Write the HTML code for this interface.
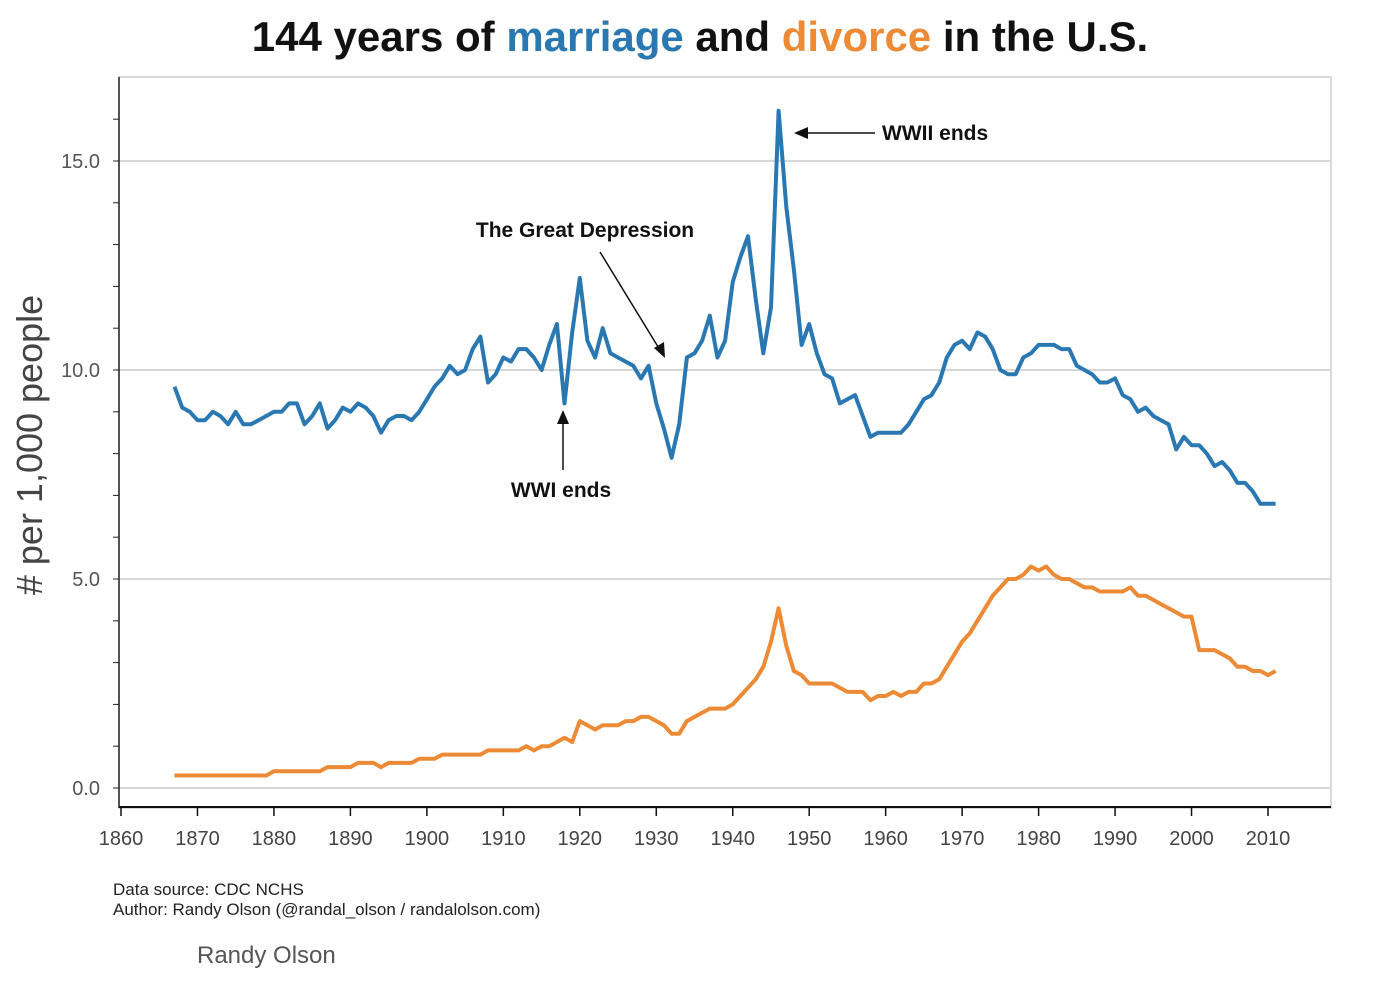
<!DOCTYPE html>
<html><head><meta charset="utf-8"><style>
html,body{margin:0;padding:0;background:#fff;}
body{width:1400px;height:980px;overflow:hidden;font-family:"Liberation Sans",Arial,sans-serif;}
</style></head><body>
<svg id="chart" width="1400" height="980" xmlns="http://www.w3.org/2000/svg" font-family="Liberation Sans, Arial, sans-serif">
<text x="700" y="51" text-anchor="middle" font-size="42" font-weight="bold" fill="#111">144 years of <tspan fill="#2a78b2">marriage</tspan> and <tspan fill="#ec8a35">divorce</tspan> in the U.S.</text>
<rect x="119" y="77" width="1212" height="731" fill="none" stroke="#ccc" stroke-width="1.5"/>
<g id="grid"></g>
<g id="axes"></g>
<g id="series"></g>
<text transform="translate(42,445) rotate(-90)" text-anchor="middle" font-size="36" fill="#444">#  per 1,000 people</text>
<g>
<line x1="875" y1="133" x2="802" y2="133" stroke="#111" stroke-width="1.5"/>
<polygon points="794,133 808,127 808,139" fill="#111"/>
<text x="882" y="140" font-size="21" font-weight="bold" fill="#111">WWII ends</text>
</g>
<g>
<text x="585" y="237" text-anchor="middle" font-size="21" font-weight="bold" fill="#111">The Great Depression</text>
<line x1="600" y1="252" x2="660" y2="350" stroke="#111" stroke-width="1.5"/>
<polygon points="665,358 654,348 664,342" fill="#111"/>
</g>
<g>
<line x1="563" y1="470" x2="563" y2="420" stroke="#111" stroke-width="1.5"/>
<polygon points="563,410 557,424 569,424" fill="#111"/>
<text x="561" y="497" text-anchor="middle" font-size="21" font-weight="bold" fill="#111">WWI ends</text>
</g>
<text x="113" y="895" font-size="17" fill="#222">Data source: CDC NCHS</text>
<text x="113" y="915" font-size="17" fill="#222">Author: Randy Olson (@randal_olson / randalolson.com)</text>
<text x="197" y="963" font-size="24" fill="#555">Randy Olson</text>
</svg>
<script>
const startYear = 1867;
const marriage = [9.6,9.1,9.0,8.8,8.8,9.0,8.9,8.7,9.0,8.7,8.7,8.8,8.9,9.0,9.0,9.2,9.2,8.7,8.9,9.2,8.6,8.8,9.1,9.0,9.2,9.1,8.9,8.5,8.8,8.9,8.9,8.8,9.0,9.3,9.6,9.8,10.1,9.9,10.0,10.5,10.8,9.7,9.9,10.3,10.2,10.5,10.5,10.3,10.0,10.6,11.1,9.2,10.9,12.2,10.7,10.3,11.0,10.4,10.3,10.2,10.1,9.8,10.1,9.2,8.6,7.9,8.7,10.3,10.4,10.7,11.3,10.3,10.7,12.1,12.7,13.2,11.7,10.4,11.5,16.2,13.9,12.4,10.6,11.1,10.4,9.9,9.8,9.2,9.3,9.4,8.9,8.4,8.5,8.5,8.5,8.5,8.7,9.0,9.3,9.4,9.7,10.3,10.6,10.7,10.5,10.9,10.8,10.5,10.0,9.9,9.9,10.3,10.4,10.6,10.6,10.6,10.5,10.5,10.1,10.0,9.9,9.7,9.7,9.8,9.4,9.3,9.0,9.1,8.9,8.8,8.7,8.1,8.4,8.2,8.2,8.0,7.7,7.8,7.6,7.3,7.3,7.1,6.8,6.8,6.8];
const divorce = [0.3,0.3,0.3,0.3,0.3,0.3,0.3,0.3,0.3,0.3,0.3,0.3,0.3,0.4,0.4,0.4,0.4,0.4,0.4,0.4,0.5,0.5,0.5,0.5,0.6,0.6,0.6,0.5,0.6,0.6,0.6,0.6,0.7,0.7,0.7,0.8,0.8,0.8,0.8,0.8,0.8,0.9,0.9,0.9,0.9,0.9,1.0,0.9,1.0,1.0,1.1,1.2,1.1,1.6,1.5,1.4,1.5,1.5,1.5,1.6,1.6,1.7,1.7,1.6,1.5,1.3,1.3,1.6,1.7,1.8,1.9,1.9,1.9,2.0,2.2,2.4,2.6,2.9,3.5,4.3,3.4,2.8,2.7,2.5,2.5,2.5,2.5,2.4,2.3,2.3,2.3,2.1,2.2,2.2,2.3,2.2,2.3,2.3,2.5,2.5,2.6,2.9,3.2,3.5,3.7,4.0,4.3,4.6,4.8,5.0,5.0,5.1,5.3,5.2,5.3,5.1,5.0,5.0,4.9,4.8,4.8,4.7,4.7,4.7,4.7,4.8,4.6,4.6,4.5,4.4,4.3,4.2,4.1,4.1,3.3,3.3,3.3,3.2,3.1,2.9,2.9,2.8,2.8,2.7,2.8];
const xTicks = [1860,1870,1880,1890,1900,1910,1920,1930,1940,1950,1960,1970,1980,1990,2000,2010];
const yTicks = [0,5,10,15];
const yTickLabels = ["0.0","5.0","10.0","15.0"];

const NS="http://www.w3.org/2000/svg";
function xScale(yr){return 121+(yr-1860)*(1268-121)/150;}
function yScale(v){return 788-v*41.8;}
function mk(tag,attrs,parent){const e=document.createElementNS(NS,tag);for(const k in attrs)e.setAttribute(k,attrs[k]);parent.appendChild(e);return e;}
const grid=document.getElementById('grid'),axes=document.getElementById('axes'),series=document.getElementById('series');
yTicks.forEach((t,i)=>{
  const y=yScale(t);
  const g=mk('line',{x1:120,x2:1330,y1:y,y2:y,stroke:'#ccc','stroke-width':1.5},grid);
  
  
  const tl=mk('text',{x:100,y:y+7,'text-anchor':'end','font-size':20,fill:'#555'},axes);
  tl.textContent=yTickLabels[i];
  
  
});
const ls=mk('line',{x1:119,x2:119,y1:77,y2:808,stroke:'#222','stroke-width':1.5},axes);


for(let v=0;v<=17;v+=1){const y=yScale(v);if(y<80)break;const tk=mk('line',{x1:113,x2:119,y1:y,y2:y,stroke:'#222','stroke-width':1},axes);

}
const bs=mk('line',{x1:119,x2:1331,y1:807,y2:807,stroke:'#111','stroke-width':2},axes);


xTicks.forEach(t=>{
  const x=xScale(t);
  const tk=mk('line',{x1:x,x2:x,y1:807,y2:816,stroke:'#111','stroke-width':1.5},axes);
  
  
  const tl=mk('text',{x:x,y:845,'text-anchor':'middle','font-size':20,fill:'#444'},axes);
  tl.textContent=t;
  
  
});
function line(arr){return arr.map((v,i)=>(i?'L':'M')+xScale(startYear+i).toFixed(1)+','+yScale(v).toFixed(1)).join(' ');}
const pm=mk('path',{d:line(marriage),fill:'none',stroke:'#2a78b2','stroke-width':4,'stroke-linejoin':'round'},series);


const pd=mk('path',{d:line(divorce),fill:'none',stroke:'#ec8a35','stroke-width':4,'stroke-linejoin':'round'},series);


</script>
</body></html>
